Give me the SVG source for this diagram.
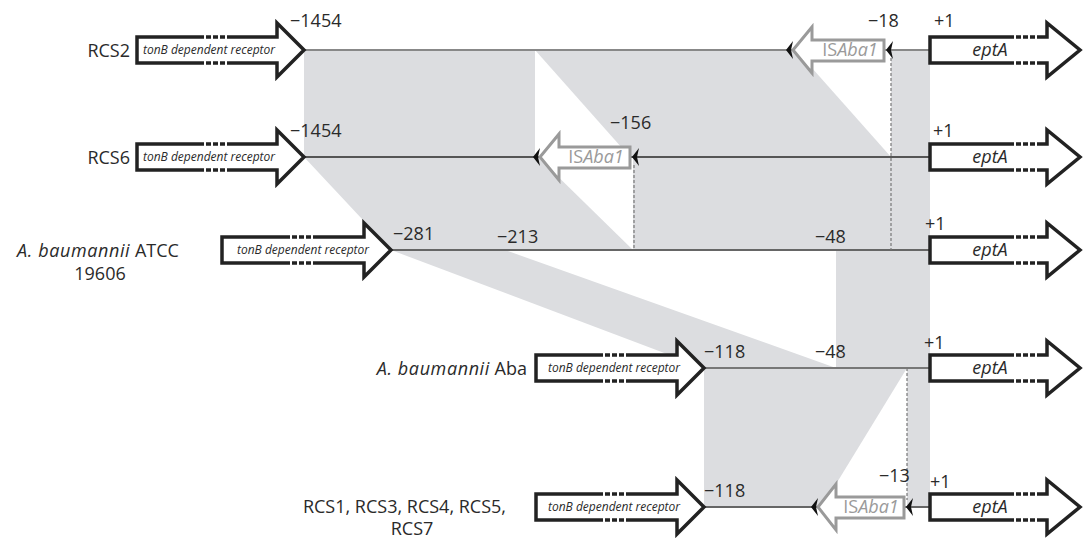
<svg xmlns="http://www.w3.org/2000/svg" width="1083" height="538" viewBox="0 0 1083 538">
<style>
text{font-family:"Open Sans","Noto Sans","Liberation Sans",sans-serif;fill:#2a2a2a}
.lbl{font-size:18px}
.it{font-style:italic;letter-spacing:0.6px}
.num{font-size:18px}
.gene{fill:#fff;stroke:#222;stroke-width:3.5;stroke-linejoin:miter}
.is{fill:#fff;stroke:#9a9a9a;stroke-width:3;stroke-linejoin:miter}
.tt{font-size:12px;font-style:italic;text-anchor:middle}
.et{font-size:18px;font-style:italic;text-anchor:middle}
.ist{font-size:18px;text-anchor:middle;fill:#9a9a9a}
.brk{stroke:#fff;stroke-width:4.5;stroke-dasharray:2 5}
.sh{fill:#dcdde0;stroke:none}
.ln{stroke:#666;stroke-width:2;fill:none}
.dash{stroke:#777;stroke-width:1.2;stroke-dasharray:3 2;fill:none}
</style>
<defs>
<path id="tsd" fill="#111" d="M0,0 L7,-9 L5,0 L7,9 Z"/>
</defs>
<g id="shading">
<polygon class="sh" points="304,50 535,50 535,157 304,157"/>
<polygon class="sh" points="535,50 796,50 891,157 630,157"/>
<polygon class="sh" points="891,50 930,50 930,157 891,157"/>
<polygon class="sh" points="304,157 538,157 633,250 391,250"/>
<polygon class="sh" points="633,157 930,157 930,250 633,250"/>
<polygon class="sh" points="391,250 505,250 836,368 704,368"/>
<polygon class="sh" points="836,250 930,250 930,368 836,368"/>
<polygon class="sh" points="704,368 907,368 822,507 704,507"/>
<polygon class="sh" points="907,368 930,368 930,507 907,507"/>
</g>
<g id="connectors">
<line class="ln" x1="304" y1="50" x2="930" y2="50" style="stroke:#888"/>
<line class="ln" x1="304" y1="157" x2="930" y2="157" style="stroke:#555"/>
<line class="ln" x1="391" y1="250" x2="930" y2="250"/>
<line class="ln" x1="704" y1="368" x2="930" y2="368" style="stroke:#777"/>
<line class="ln" x1="704" y1="507" x2="930" y2="507"/>
<line class="dash" x1="891" y1="58" x2="891" y2="250"/>
<line class="dash" x1="634" y1="165" x2="634" y2="250"/>
<line class="dash" x1="907" y1="368" x2="907" y2="500"/>
</g>
<g id="row-rcs2">
<text class="lbl" x="130" y="57" text-anchor="end">RCS2</text>
<g id="rcs2-tonB">
<path class="gene" d="M137,37 H277 V23 L304,50 L277,77 V63 H137 Z"/>
<line class="brk" x1="204" y1="37" x2="230" y2="37"/><line class="brk" x1="204" y1="63" x2="230" y2="63"/>
<text class="tt" x="209" y="54">tonB dependent receptor</text>
</g>
<g id="rcs2-isaba1">
<path class="is" d="M884,40 H812 V27 L793,50 L812,73 V61 H884 Z"/>
<text class="ist" x="850" y="56">IS<tspan font-style="italic">Aba1</tspan></text>
<use href="#tsd" x="786" y="50"/><use href="#tsd" x="886" y="50"/>
</g>
<g id="rcs2-eptA">
<path class="gene" d="M930,37 H1047 V23 L1080,50 L1047,77 V63 H930 Z"/>
<line class="brk" x1="1014" y1="37" x2="1040" y2="37"/><line class="brk" x1="1014" y1="63" x2="1040" y2="63"/>
<text class="et" x="990" y="56">eptA</text>
</g>
<text class="num" x="290" y="27">−1454</text>
<text class="num" x="868" y="27">−18</text>
<text class="num" x="934" y="27">+1</text>
</g>
<g id="row-rcs6">
<text class="lbl" x="130" y="164" text-anchor="end">RCS6</text>
<g id="rcs6-tonB">
<path class="gene" d="M137,144 H277 V130 L304,157 L277,184 V170 H137 Z"/>
<line class="brk" x1="204" y1="144" x2="230" y2="144"/><line class="brk" x1="204" y1="170" x2="230" y2="170"/>
<text class="tt" x="209" y="161">tonB dependent receptor</text>
</g>
<g id="rcs6-isaba1">
<path class="is" d="M630,147 H559 V134 L540,157 L559,180 V168 H630 Z"/>
<text class="ist" x="596" y="163">IS<tspan font-style="italic">Aba1</tspan></text>
<use href="#tsd" x="533" y="157"/><use href="#tsd" x="632" y="157"/>
</g>
<g id="rcs6-eptA">
<path class="gene" d="M930,144 H1047 V130 L1080,157 L1047,184 V170 H930 Z"/>
<line class="brk" x1="1014" y1="144" x2="1040" y2="144"/><line class="brk" x1="1014" y1="170" x2="1040" y2="170"/>
<text class="et" x="990" y="163">eptA</text>
</g>
<text class="num" x="290" y="137">−1454</text>
<text class="num" x="610" y="129">−156</text>
<text class="num" x="933" y="137">+1</text>
</g>
<g id="row-atcc">
<text class="lbl" x="98" y="257" text-anchor="middle"><tspan class="it">A. baumannii</tspan> ATCC</text>
<text class="lbl" x="100" y="280" text-anchor="middle">19606</text>
<g id="atcc-tonB">
<path class="gene" d="M222,237 H364 V223 L391,250 L364,277 V263 H222 Z"/>
<line class="brk" x1="290" y1="237" x2="316" y2="237"/><line class="brk" x1="290" y1="263" x2="316" y2="263"/>
<text class="tt" x="303" y="254">tonB dependent receptor</text>
</g>
<g id="atcc-eptA">
<path class="gene" d="M930,237 H1047 V223 L1080,250 L1047,277 V263 H930 Z"/>
<line class="brk" x1="1014" y1="237" x2="1040" y2="237"/><line class="brk" x1="1014" y1="263" x2="1040" y2="263"/>
<text class="et" x="990" y="256">eptA</text>
</g>
<text class="num" x="393" y="240">−281</text>
<text class="num" x="497" y="243">−213</text>
<text class="num" x="815" y="243">−48</text>
<text class="num" x="925" y="230">+1</text>
</g>
<g id="row-aba">
<text class="lbl" x="527" y="375" text-anchor="end"><tspan class="it">A. baumannii</tspan> Aba</text>
<g id="aba-tonB">
<path class="gene" d="M536,355 H677 V341 L704,368 L677,395 V381 H536 Z"/>
<line class="brk" x1="603" y1="355" x2="629" y2="355"/><line class="brk" x1="603" y1="381" x2="629" y2="381"/>
<text class="tt" x="614" y="372">tonB dependent receptor</text>
</g>
<g id="aba-eptA">
<path class="gene" d="M930,355 H1047 V341 L1080,368 L1047,395 V381 H930 Z"/>
<line class="brk" x1="1014" y1="355" x2="1040" y2="355"/><line class="brk" x1="1014" y1="381" x2="1040" y2="381"/>
<text class="et" x="990" y="374">eptA</text>
</g>
<text class="num" x="704" y="358">−118</text>
<text class="num" x="815" y="358">−48</text>
<text class="num" x="924" y="349">+1</text>
</g>
<g id="row-rcs1">
<text class="lbl" x="506" y="513" text-anchor="end">RCS1, RCS3, RCS4, RCS5,</text>
<text class="lbl" x="412" y="535" text-anchor="middle">RCS7</text>
<g id="rcs1-tonB">
<path class="gene" d="M536,494 H677 V480 L704,507 L677,534 V520 H536 Z"/>
<line class="brk" x1="603" y1="494" x2="629" y2="494"/><line class="brk" x1="603" y1="520" x2="629" y2="520"/>
<text class="tt" x="614" y="511">tonB dependent receptor</text>
</g>
<g id="rcs1-isaba1">
<path class="is" d="M904,497 H836 V484 L818,507 L836,530 V518 H904 Z"/>
<text class="ist" x="871" y="513">IS<tspan font-style="italic">Aba1</tspan></text>
<use href="#tsd" x="811" y="507"/><use href="#tsd" x="906" y="507"/>
</g>
<g id="rcs1-eptA">
<path class="gene" d="M930,494 H1047 V480 L1080,507 L1047,534 V520 H930 Z"/>
<line class="brk" x1="1014" y1="494" x2="1040" y2="494"/><line class="brk" x1="1014" y1="520" x2="1040" y2="520"/>
<text class="et" x="990" y="513">eptA</text>
</g>
<text class="num" x="704" y="497">−118</text>
<text class="num" x="879" y="482">−13</text>
<text class="num" x="930" y="488">+1</text>
</g>
</svg>
